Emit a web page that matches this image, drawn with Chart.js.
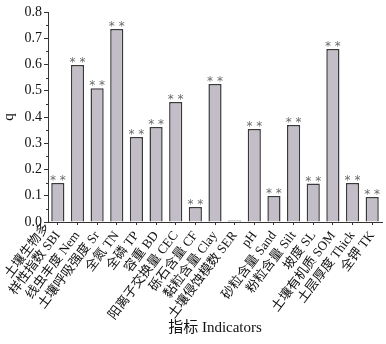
<!DOCTYPE html>
<html>
<head>
<meta charset="utf-8">
<script src="https://cdn.jsdelivr.net/npm/chart.js@4/dist/chart.umd.min.js"></script>
<style>
  body { margin: 0; background: #fff; }
  #wrap { width: 386px; height: 344px; }
</style>
</head>
<body>
<div id="wrap"><canvas id="chart_q" width="386" height="344"></canvas></div>
<script>
var categories = [
  ['土壤生物多', '样性指数 SBI'], '线虫丰度 Nem', '土壤呼吸强度 Sr', '全氮 TN', '全磷 TP',
  '容重 BD', '阳离子交换量 CEC', '砾石含量 CF', '黏粒含量 Clay', '土壤侵蚀模数 SER',
  'pH', '砂粒含量 Sand', '粉粒含量 Silt', '坡度 SL', '土壤有机质 SOM', '土层厚度 Thick', '全钾 TK'
];
var qValues = [0.149, 0.598, 0.510, 0.735, 0.324, 0.362, 0.457, 0.057, 0.526, 0.006,
  0.354, 0.099, 0.370, 0.147, 0.659, 0.149, 0.095];
var sigMarks = ['**', '**', '**', '**', '**', '**', '**', '**', '**', '',
  '**', '**', '**', '**', '**', '**', '**'];
var yTicks = [0, 0.1, 0.2, 0.3, 0.4, 0.5, 0.6, 0.7, 0.8];

var serif = "'Liberation Serif', 'Noto Sans CJK SC', serif";
var axisColor = '#333';

// asterisks above bars, minor y ticks, and put the last line of a wrapped label on its tick
var extras = {
  id: 'extras',
  beforeDraw: function(chart) {
    var x = chart.scales.x;
    var items = x.getLabelItems(chart.chartArea);
    items.forEach(function(it) {
      if (Array.isArray(it.label) && !it._lifted) {
        it.textOffset -= (it.label.length - 1) * it.font.lineHeight;
        it._lifted = true;
      }
    });
  },
  afterDatasetsDraw: function(chart) {
    var ctx = chart.ctx;
    var meta = chart.getDatasetMeta(0);
    ctx.save();
    ctx.fillStyle = '#6a6a6a';
    ctx.font = "12px 'DejaVu Sans', sans-serif";
    ctx.textAlign = 'center';
    ctx.textBaseline = 'bottom';
    meta.data.forEach(function(bar, i) {
      if (sigMarks[i]) ctx.fillText(sigMarks[i].split('').join(' '), bar.x, bar.y + 4);
    });
    ctx.restore();
  },
  afterDraw: function(chart) {
    var ctx = chart.ctx;
    var y = chart.scales.y;
    ctx.save();
    ctx.strokeStyle = axisColor;
    ctx.lineWidth = 1;
    for (var i = 0; i < yTicks.length - 1; i++) {
      var py = Math.round(y.getPixelForValue((yTicks[i] + yTicks[i + 1]) / 2)) + 0.5;
      ctx.beginPath();
      ctx.moveTo(y.right - 2, py);
      ctx.lineTo(y.right, py);
      ctx.stroke();
    }
    ctx.restore();
  }
};

new Chart('chart_q', {
  type: 'bar',
  data: {
    labels: categories,
    datasets: [{
      label: 'q',
      data: qValues,
      backgroundColor: '#c2bdc6',
      borderColor: '#3a3a3a',
      borderWidth: 1.5,
      categoryPercentage: 1,
      barPercentage: 0.67
    }]
  },
  options: {
    responsive: false,
    animation: false,
    layout: { autoPadding: false, padding: { top: 12, right: 4, left: 0, bottom: 0 } },
    plugins: { legend: { display: false }, tooltip: { enabled: false } },
    scales: {
      x: {
        grid: { drawOnChartArea: false, tickLength: 3, color: axisColor, offset: false },
        border: { color: axisColor, width: 1 },
        ticks: {
          color: '#111', padding: 4, maxRotation: 53, minRotation: 53, autoSkip: false,
          font: { family: serif, size: 13, lineHeight: 1.05 }
        },
        title: {
          display: true, text: '指标 Indicators', color: '#111',
          font: { family: serif, size: 15 }, padding: { top: 0, bottom: 7 }
        },
        afterFit: function(s) { s.height = 122; s.paddingLeft = 0; s.paddingRight = 0; }
      },
      y: {
        min: 0, max: 0.8,
        grid: { drawOnChartArea: false, tickLength: 4, color: axisColor },
        border: { color: axisColor, width: 1 },
        ticks: {
          stepSize: 0.1, color: '#111', padding: 2,
          font: { family: serif, size: 14 },
          callback: function(v) { return v.toFixed(1); }
        },
        title: {
          display: true, text: 'q', color: '#111',
          font: { family: serif, size: 15 }, padding: { top: 0, bottom: 2 }
        },
        afterFit: function(s) { s.width = 48; }
      }
    }
  },
  plugins: [extras]
});
</script>
</body>
</html>
